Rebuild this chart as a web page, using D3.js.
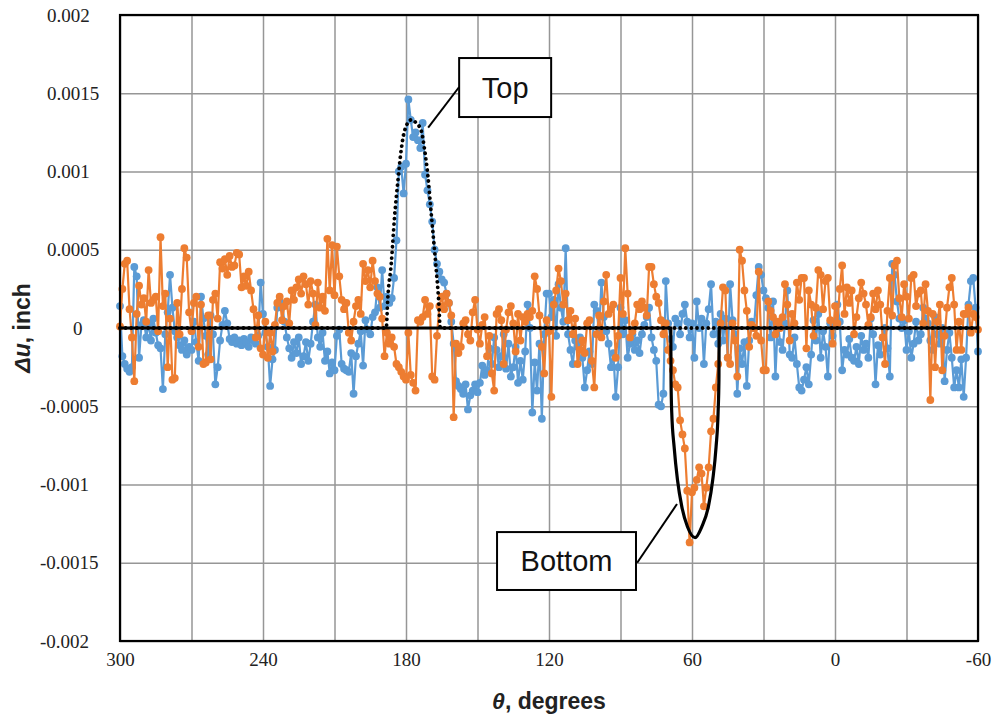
<!DOCTYPE html>
<html><head><meta charset="utf-8">
<script src="https://cdn.jsdelivr.net/npm/d3@7"></script>
<style>body{margin:0;background:#fff}svg{display:block}</style>
</head><body>
<svg id="chart" width="997" height="719"></svg>
<script>
// angle of each sample, degrees (300 down to -60, 1 degree apart)
const theta = d3.range(300, -61, -1);

// Δu readings in units of 1e-4 inch, one per theta
const blueValues = [
 1.4,-1.8,-2.3,-2.6,-2.8,-2.5,3.9,3.3,-1.9,0.2,0.5,-0.6,0.3,-0.8,0.6,-0.3,-1.1,-1.3,-3.9,-0.4,
 1.0,3.4,1.3,-0.2,-0.6,-1.1,-1.4,-0.8,-1.7,-1.2,-1.4,0.4,-0.9,-2.1,2.0,0.6,-0.5,-1.7,0.8,-0.4,
 -3.6,-2.5,-0.8,0.2,1.1,0.3,-0.7,-0.9,-0.6,-1.0,-0.8,-1.1,-0.7,-0.9,-1.2,-0.6,-0.8,-1.0,-0.5,2.9,
 0.9,-0.3,-1.2,-3.7,-2.0,-1.4,1.3,1.7,1.5,0.4,-0.6,-1.3,-1.9,-0.9,-1.6,-0.6,-2.3,-1.8,-0.9,-2.1,
 -1.0,0.4,1.5,-0.6,-1.2,-0.3,-2.1,-1.5,-2.9,-2.2,-2.7,
 -0.5,-0.1,-2.3,-2.6,-2.7,-2.8,-1.6,-4.2,-1.8,-1.0,-0.2,-2.4,0.5,-0.1,-0.4,0.7,1.0,2.6,1.3,3.7,
 1.4,2.0,1.6,1.9,3.2,5.6,10.0,10.3,8.6,10.5,14.6,13.3,12.2,12.5,12.0,11.5,13.1,9.8,8.8,7.9,
 6.8,5.0,4.1,3.6,3.1,2.9,2.2,1.6,0.4,-1.0,-3.4,-3.7,-3.9,-4.2,-3.6,-5.2,-4.3,-4.0,-3.6,-4.1,
 -3.5,-2.4,-3.0,-2.7,-1.3,-2.3,-0.6,-1.4,-2.5,-1.8,-0.4,-2.6,-1.0,-3.1,-2.5,-1.2,-3.5,-2.1,-3.3,-1.5,
 1.5,0.0,-5.4,-2.2,-4.0,-1.0,-5.8,-0.4,2.2,2.2,
 0.7,1.8,-0.5,2.8,1.3,0.4,5.1,-0.4,-1.4,-2.3,-0.8,-1.2,-0.6,-1.9,-3.8,-2.7,-1.5,-2.3,1.5,1.1,
 -0.3,2.9,0.7,-0.2,-1.0,-2.5,-1.6,-4.4,-2.5,1.3,-0.4,0.5,-1.9,-1.0,-0.4,-1.4,-0.8,-1.6,-0.4,0.2,
 0.7,1.3,-0.6,-1.4,-2.1,-4.9,-5.0,-4.2,3.0,0.3,-0.7,-1.2,0.6,0.3,-0.4,0.9,1.5,0.4,-0.6,0.3,
 -1.9,1.7,0.0,0.6,-2.3,0.3,1.2,2.8,-0.4,0.4,-1.0,0.9,-0.8,0.6,-1.9,2.8,0.5,-0.4,-4.2,-1.3,
 -2.3,-0.9,-3.7,-0.8,0.4,0.0,2.1,3.9,3.4,2.4,
 1.9,1.3,-0.6,1.7,-3.1,0.3,-0.9,-1.4,0.3,2.4,-1.7,-1.9,-0.6,-2.3,-3.8,-4.0,-3.3,-2.5,-3.6,-1.7,
 0.5,-0.8,0.9,-1.9,-0.2,-1.2,-3.1,0.3,-0.5,0.3,1.5,0.4,-2.7,-1.4,-1.7,-0.7,-1.9,-2.1,-1.2,-2.3,
 -0.5,-1.4,-1.0,-1.9,0.6,-0.4,-3.6,-1.1,-1.7,-0.6,0.0,-1.3,-3.1,4.1,3.4,1.7,0.6,0.0,0.5,-1.4,
 -0.2,-1.9,-1.0,0.4,-0.8,-0.4,1.3,0.6,0.3,-0.8,-1.4,0.7,-0.4,-1.0,0.0,-3.4,-1.4,-0.3,-1.9,-3.8,
 -2.7,-3.8,-2.0,-4.4,-1.9,1.5,3.0,3.2,1.3,-1.5
];
const orangeValues = [
 0.1,2.5,4.1,4.3,1.2,-0.6,-3.4,0.9,2.7,1.5,1.9,0.4,3.7,1.6,1.8,2.0,-0.2,5.8,1.4,2.2,
 -2.5,0.6,-3.3,-3.2,1.6,-0.4,2.5,5.1,4.5,1.0,-0.2,1.6,2.0,-1.2,1.5,-2.3,-2.2,0.8,-2.0,1.8,
 2.2,0.6,4.2,3.8,4.4,3.4,4.6,3.9,4.0,4.8,4.7,2.6,3.3,2.7,3.6,2.4,1.2,-0.6,0.8,-1.3,
 -1.7,0.4,-1.9,-0.3,-1.5,0.2,1.6,2.0,0.5,1.4,1.7,0.3,2.4,1.8,2.6,3.1,2.2,3.3,2.8,1.5,
 3.0,2.2,0.2,2.9,1.3,2.0,1.1,5.7,2.4,5.3,2.1,
 5.2,3.3,1.8,1.2,1.6,-0.3,-0.8,0.4,1.4,1.8,0.9,4.1,3.0,3.7,2.6,4.3,3.0,2.2,2.0,0.6,
 -1.8,-0.3,-1.0,-0.6,-1.2,-2.3,-2.5,-2.8,-3.1,-3.3,-0.3,-3.0,-3.5,-4.0,0.5,0.4,0.7,1.8,0.9,1.4,
 -3.1,-3.3,-0.5,1.4,2.0,1.2,2.2,1.6,0.8,-5.7,-1.0,-1.6,-1.2,0.3,0.5,-0.4,-0.8,1.0,1.8,-0.1,
 -1.0,0.2,0.7,-1.8,-0.5,-2.9,-4.0,0.9,1.2,0.5,-2.3,-0.1,1.0,1.4,0.3,-1.5,0.9,-0.8,0.7,0.4,
 0.9,0.7,1.1,3.3,2.5,0.8,-1.2,-2.9,0.5,-0.2,
 -4.4,1.5,2.4,3.8,3.0,1.5,2.2,0.5,1.1,-0.4,0.6,-2.3,-1.4,-0.8,-1.6,0.3,0.5,-2.1,-3.8,-0.4,
 0.8,-0.6,1.7,3.4,0.9,1.2,1.5,-1.9,-0.5,3.2,0.9,5.1,2.2,-0.6,-0.2,0.3,1.5,1.2,1.7,1.3,
 0.8,3.9,3.9,2.8,2.0,1.6,0.5,-0.4,0.3,-1.4,-2.1,-2.7,-3.6,-3.8,-5.9,-6.8,-7.7,-10.4,-13.7,-10.5,
 -10.2,-9.7,-8.9,-9.3,-11.4,-10.2,-8.9,-6.6,-5.8,-3.8,-2.3,0.3,2.6,2.4,-1.9,-2.3,0.3,-0.8,-3.1,5.0,
 4.3,2.4,1.1,-1.2,0.2,0.0,-0.5,3.6,-0.8,-2.7,
 -2.7,1.7,1.1,0.7,-0.4,0.4,0.0,0.7,2.8,1.5,-0.8,0.9,0.3,2.9,1.8,3.2,3.2,-1.3,2.4,1.5,
 -0.5,1.3,3.7,3.4,1.2,3.0,3.2,0.5,-1.0,1.4,0.3,2.5,4.0,0.9,2.6,1.6,2.4,-0.4,0.7,1.9,
 2.9,2.2,1.5,0.2,0.7,2.2,1.2,2.4,1.5,-0.6,-2.3,1.1,3.2,0.8,4.0,4.3,1.9,0.7,2.8,2.0,
 0.6,3.2,3.4,1.4,2.2,2.4,0.3,2.8,1.1,-4.6,0.9,-2.5,0.4,1.5,-2.7,-0.5,1.3,2.6,3.2,1.5,
 -1.4,0.4,-1.4,0.9,0.9,1.3,-0.3,0.9,0.7,-0.1
];

// model curves: [theta, Δu ×1e-4 inch]
const topModel = [[300,0],[188.3,0],[187.6,2.0],[186.2,4.1],[184.8,7.1],[183.4,9.4],[182,11.4],
 [180.6,12.6],[177.8,13.3],[175.7,13.1],[173.6,12.6],[172.2,11.4],[170.8,9.7],[169.7,7.8],
 [168.4,5.6],[167.3,3.7],[166.4,2.0],[165.6,0],[-60,0]];
const bottomModel = [[300,0],[68.9,0],[68.8,-3.3],[68.5,-5.4],[67.5,-7.6],[66.1,-9.7],[64.3,-11.4],
 [61.9,-12.7],[58.7,-13.4],[55.9,-12.7],[53.1,-11.4],[51.3,-9.7],[49.9,-7.6],[49.05,-5.4],
 [48.7,-3.3],[48.6,0],[-60,0]];

const xTicks = [300, 240, 180, 120, 60, 0, -60];
const xGrid = [300, 270, 240, 210, 180, 150, 120, 90, 60, 30, 0, -30, -60];
const yTicks = [20, 15, 10, 5, 0, -5, -10, -15, -20];
const yTickLabels = ["0.002","0.0015","0.001","0.0005","0","-0.0005","-0.001","-0.0015","-0.002"];

// annotations (data units): box corners and leader line
const annotations = [
 {text:"Top", box:[157.7, 17.25, 119.1, 13.48], line:[[157.7, 15.4],[170.7, 12.8]]},
 {text:"Bottom", box:[141.8, -13.04, 83.5, -16.74], line:[[83.0, -15.0],[66.3, -11.25]]}
];

const SERIF = "'Liberation Serif', 'DejaVu Serif', 'Times New Roman', serif";
const SANS = "'Liberation Sans', Arial, sans-serif";

const svg = d3.select("#chart");
const L = 120, R = 978, T = 15, B = 641;
const x = d3.scaleLinear().domain([300, -60]).range([L, R]);
const y = d3.scaleLinear().domain([-20, 20]).range([B, T]);

// gridlines
svg.append("g").attr("transform", `translate(0,${B})`)
  .call(d3.axisBottom(x).tickValues(xGrid).tickSize(-(B - T)).tickFormat(""))
  .call(g => g.select(".domain").remove())
  .call(g => g.selectAll("line").attr("stroke", "#969696").attr("stroke-width", 1.5));
svg.append("g").attr("transform", `translate(${L},0)`)
  .call(d3.axisLeft(y).tickValues(yTicks).tickSize(-(R - L)).tickFormat(""))
  .call(g => g.select(".domain").remove())
  .call(g => g.selectAll("line").attr("stroke", "#969696").attr("stroke-width", 1.5));

// tick labels
const xAx = svg.append("g").attr("transform", `translate(0,${B})`)
  .call(d3.axisBottom(x).tickValues(xTicks).tickSize(0).tickPadding(12).tickFormat(d => String(d)));
xAx.select(".domain").remove();
xAx.attr("font-family", null).attr("font-size", null);
xAx.selectAll("text").style("font-family", SERIF).style("font-size", "19px").attr("fill", "#222");

const yAx = svg.append("g").attr("transform", `translate(${L},0)`)
  .call(d3.axisLeft(y).tickValues(yTicks).tickSize(0).tickFormat((d, i) => yTickLabels[i]));
yAx.select(".domain").remove();
yAx.attr("font-family", null).attr("font-size", null);
yAx.selectAll("text").style("font-family", SERIF).style("font-size", "19px").attr("fill", "#222")
  .attr("text-anchor", "start")
  .attr("x", d => (d === 0 ? 73 : d < 0 ? 40 : 47) - L);

const line = d3.line().x((d, i) => x(theta[i])).y(d => y(d));

function drawSeries(vals, color) {
  const g = svg.append("g");
  g.append("path").datum(vals).attr("d", line).attr("fill", "none")
    .attr("stroke", color).attr("stroke-width", 2.2);
  g.selectAll("circle").data(vals).join("circle")
    .attr("cx", (d, i) => x(theta[i])).attr("cy", d => y(d)).attr("r", 3.9).attr("fill", color);
}
drawSeries(blueValues, "#5B9BD5");
drawSeries(orangeValues, "#ED7D31");

const mline = d3.line().x(d => x(d[0])).y(d => y(d[1])).curve(d3.curveMonotoneX);
svg.append("path").datum(topModel).attr("d", mline).attr("fill", "none")
  .attr("stroke", "#000").attr("stroke-width", 3.8)
  .attr("stroke-dasharray", "0.01 5.6").attr("stroke-linecap", "round");
svg.append("path").datum(bottomModel).attr("d", mline).attr("fill", "none")
  .attr("stroke", "#000").attr("stroke-width", 3.2);

// frame
svg.append("rect").attr("x", L).attr("y", T).attr("width", R - L).attr("height", B - T)
  .attr("fill", "none").attr("stroke", "#000").attr("stroke-width", 2.2);

// annotations
annotations.forEach(a => {
  svg.append("line").attr("x1", x(a.line[0][0])).attr("y1", y(a.line[0][1]))
    .attr("x2", x(a.line[1][0])).attr("y2", y(a.line[1][1]))
    .attr("stroke", "#000").attr("stroke-width", 2);
  const x0 = x(a.box[0]), y0 = y(a.box[1]), x1 = x(a.box[2]), y1 = y(a.box[3]);
  svg.append("rect").attr("x", x0).attr("y", y0).attr("width", x1 - x0).attr("height", y1 - y0)
    .attr("fill", "#fff").attr("stroke", "#000").attr("stroke-width", 2);
  svg.append("text").attr("x", (x0 + x1) / 2).attr("y", (y0 + y1) / 2)
    .attr("text-anchor", "middle").attr("dominant-baseline", "central")
    .style("font-family", SANS).style("font-size", "29px")
    .attr("fill", "#111").text(a.text);
});

// axis titles
const xt = svg.append("text").attr("x", (L + R) / 2).attr("y", 709)
  .attr("text-anchor", "middle").style("font-family", SANS)
  .style("font-size", "23px").attr("font-weight", "bold").attr("fill", "#222");
xt.append("tspan").attr("font-style", "italic").text("θ");
xt.append("tspan").text(", degrees");

const yt = svg.append("text").attr("transform", `translate(30,${(T + B) / 2}) rotate(-90)`)
  .attr("text-anchor", "middle").style("font-family", SANS)
  .style("font-size", "23px").attr("font-weight", "bold").attr("fill", "#222");
yt.append("tspan").attr("font-style", "italic").text("Δu");
yt.append("tspan").text(", inch");
</script>
</body></html>
